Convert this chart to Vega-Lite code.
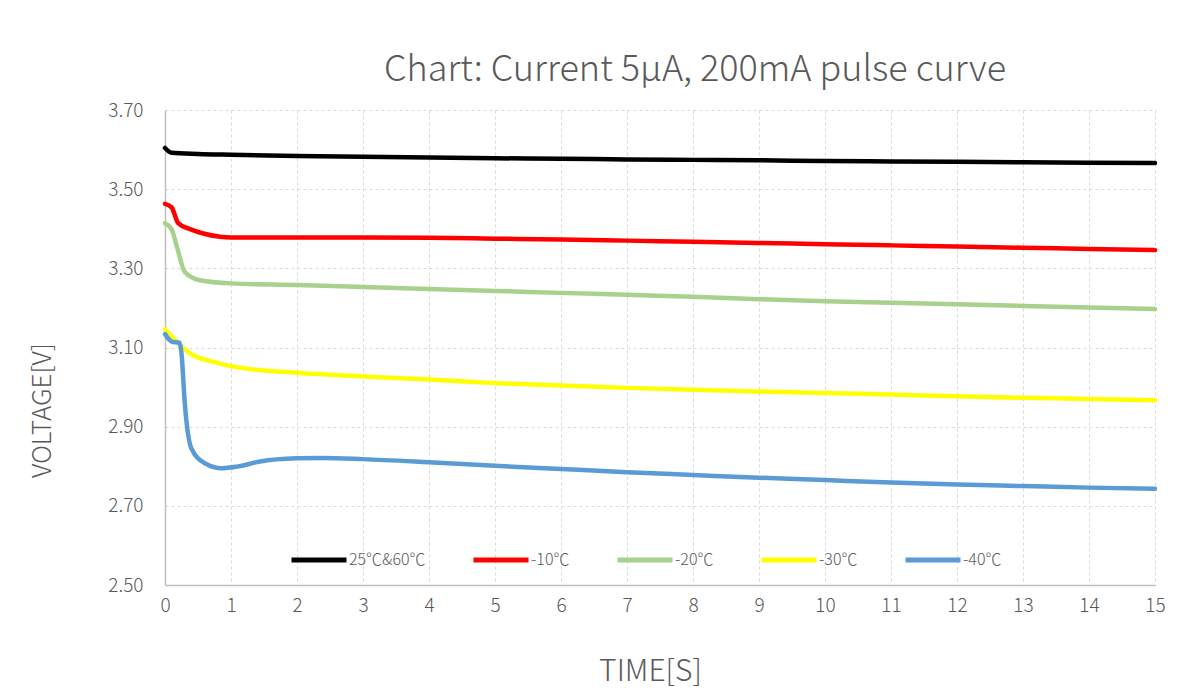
{
  "$schema": "https://vega.github.io/schema/vega-lite/v6.json",
  "width": 990,
  "height": 475,
  "autosize": {"type": "none"},
  "padding": {"left": 165, "top": 110, "right": 31, "bottom": 110},
  "background": "white",
  "title": {
    "text": "Chart: Current 5μA, 200mA pulse curve",
    "font": "Noto Sans CJK SC",
    "fontSize": 36,
    "fontWeight": 300,
    "color": "#595959",
    "anchor": "middle",
    "baseline": "alphabetic",
    "dx": 35,
    "dy": 43,
    "offset": 27
  },
  "config": {
    "view": {"stroke": null},
    "font": "Noto Sans CJK SC"
  },
  "data": {
    "values": [
      {"t": 0, "v": 3.604, "s": "25℃&60℃"},
      {"t": 0.1, "v": 3.592, "s": "25℃&60℃"},
      {"t": 0.5, "v": 3.589, "s": "25℃&60℃"},
      {"t": 1, "v": 3.587, "s": "25℃&60℃"},
      {"t": 2, "v": 3.584, "s": "25℃&60℃"},
      {"t": 3, "v": 3.582, "s": "25℃&60℃"},
      {"t": 4, "v": 3.580, "s": "25℃&60℃"},
      {"t": 5, "v": 3.578, "s": "25℃&60℃"},
      {"t": 6, "v": 3.577, "s": "25℃&60℃"},
      {"t": 7, "v": 3.575, "s": "25℃&60℃"},
      {"t": 8, "v": 3.574, "s": "25℃&60℃"},
      {"t": 9, "v": 3.573, "s": "25℃&60℃"},
      {"t": 10, "v": 3.571, "s": "25℃&60℃"},
      {"t": 11, "v": 3.570, "s": "25℃&60℃"},
      {"t": 12, "v": 3.569, "s": "25℃&60℃"},
      {"t": 13, "v": 3.568, "s": "25℃&60℃"},
      {"t": 14, "v": 3.567, "s": "25℃&60℃"},
      {"t": 15, "v": 3.566, "s": "25℃&60℃"},

      {"t": 0, "v": 3.463, "s": "-10℃"},
      {"t": 0.1, "v": 3.454, "s": "-10℃"},
      {"t": 0.2, "v": 3.414, "s": "-10℃"},
      {"t": 0.38, "v": 3.399, "s": "-10℃"},
      {"t": 0.58, "v": 3.388, "s": "-10℃"},
      {"t": 0.83, "v": 3.380, "s": "-10℃"},
      {"t": 1, "v": 3.378, "s": "-10℃"},
      {"t": 2, "v": 3.378, "s": "-10℃"},
      {"t": 3, "v": 3.378, "s": "-10℃"},
      {"t": 4, "v": 3.377, "s": "-10℃"},
      {"t": 5, "v": 3.375, "s": "-10℃"},
      {"t": 6, "v": 3.373, "s": "-10℃"},
      {"t": 7, "v": 3.370, "s": "-10℃"},
      {"t": 8, "v": 3.367, "s": "-10℃"},
      {"t": 9, "v": 3.364, "s": "-10℃"},
      {"t": 10, "v": 3.361, "s": "-10℃"},
      {"t": 11, "v": 3.358, "s": "-10℃"},
      {"t": 12, "v": 3.355, "s": "-10℃"},
      {"t": 13, "v": 3.352, "s": "-10℃"},
      {"t": 14, "v": 3.349, "s": "-10℃"},
      {"t": 15, "v": 3.346, "s": "-10℃"},

      {"t": 0, "v": 3.414, "s": "-20℃"},
      {"t": 0.1, "v": 3.399, "s": "-20℃"},
      {"t": 0.18, "v": 3.355, "s": "-20℃"},
      {"t": 0.3, "v": 3.291, "s": "-20℃"},
      {"t": 0.53, "v": 3.270, "s": "-20℃"},
      {"t": 1, "v": 3.262, "s": "-20℃"},
      {"t": 2, "v": 3.258, "s": "-20℃"},
      {"t": 3, "v": 3.253, "s": "-20℃"},
      {"t": 4, "v": 3.248, "s": "-20℃"},
      {"t": 5, "v": 3.243, "s": "-20℃"},
      {"t": 6, "v": 3.238, "s": "-20℃"},
      {"t": 7, "v": 3.233, "s": "-20℃"},
      {"t": 8, "v": 3.228, "s": "-20℃"},
      {"t": 9, "v": 3.222, "s": "-20℃"},
      {"t": 10, "v": 3.217, "s": "-20℃"},
      {"t": 11, "v": 3.213, "s": "-20℃"},
      {"t": 12, "v": 3.209, "s": "-20℃"},
      {"t": 13, "v": 3.205, "s": "-20℃"},
      {"t": 14, "v": 3.201, "s": "-20℃"},
      {"t": 15, "v": 3.197, "s": "-20℃"},

      {"t": 0, "v": 3.146, "s": "-30℃"},
      {"t": 0.15, "v": 3.119, "s": "-30℃"},
      {"t": 0.38, "v": 3.085, "s": "-30℃"},
      {"t": 0.78, "v": 3.062, "s": "-30℃"},
      {"t": 1, "v": 3.053, "s": "-30℃"},
      {"t": 2, "v": 3.036, "s": "-30℃"},
      {"t": 3, "v": 3.027, "s": "-30℃"},
      {"t": 4, "v": 3.019, "s": "-30℃"},
      {"t": 5, "v": 3.010, "s": "-30℃"},
      {"t": 6, "v": 3.004, "s": "-30℃"},
      {"t": 7, "v": 2.998, "s": "-30℃"},
      {"t": 8, "v": 2.993, "s": "-30℃"},
      {"t": 9, "v": 2.989, "s": "-30℃"},
      {"t": 10, "v": 2.985, "s": "-30℃"},
      {"t": 11, "v": 2.981, "s": "-30℃"},
      {"t": 12, "v": 2.977, "s": "-30℃"},
      {"t": 13, "v": 2.973, "s": "-30℃"},
      {"t": 14, "v": 2.970, "s": "-30℃"},
      {"t": 15, "v": 2.967, "s": "-30℃"},

      {"t": 0, "v": 3.134, "s": "-40℃"},
      {"t": 0.1, "v": 3.115, "s": "-40℃"},
      {"t": 0.22, "v": 3.112, "s": "-40℃"},
      {"t": 0.25, "v": 3.085, "s": "-40℃"},
      {"t": 0.3, "v": 2.959, "s": "-40℃"},
      {"t": 0.4, "v": 2.845, "s": "-40℃"},
      {"t": 0.61, "v": 2.807, "s": "-40℃"},
      {"t": 0.86, "v": 2.795, "s": "-40℃"},
      {"t": 1.09, "v": 2.799, "s": "-40℃"},
      {"t": 1.44, "v": 2.812, "s": "-40℃"},
      {"t": 2, "v": 2.820, "s": "-40℃"},
      {"t": 2.4, "v": 2.821, "s": "-40℃"},
      {"t": 3, "v": 2.818, "s": "-40℃"},
      {"t": 4, "v": 2.810, "s": "-40℃"},
      {"t": 5, "v": 2.801, "s": "-40℃"},
      {"t": 6, "v": 2.793, "s": "-40℃"},
      {"t": 7, "v": 2.785, "s": "-40℃"},
      {"t": 8, "v": 2.778, "s": "-40℃"},
      {"t": 9, "v": 2.771, "s": "-40℃"},
      {"t": 10, "v": 2.765, "s": "-40℃"},
      {"t": 11, "v": 2.759, "s": "-40℃"},
      {"t": 12, "v": 2.754, "s": "-40℃"},
      {"t": 13, "v": 2.750, "s": "-40℃"},
      {"t": 14, "v": 2.746, "s": "-40℃"},
      {"t": 15, "v": 2.743, "s": "-40℃"}
    ]
  },
  "mark": {"type": "line", "strokeWidth": 4.5, "interpolate": "monotone", "strokeCap": "round", "strokeJoin": "round"},
  "encoding": {
    "x": {
      "field": "t",
      "type": "quantitative",
      "scale": {"domain": [0, 15], "nice": false},
      "axis": {
        "title": "TIME[S]",
        "values": [0,1,2,3,4,5,6,7,8,9,10,11,12,13,14,15],
        "format": "d",
        "grid": true,
        "gridDash": [3, 3],
        "gridColor": "#d9d9d9",
        "gridWidth": 1,
        "ticks": false,
        "tickSize": 0,
        "domainColor": "#bfbfbf",
        "domainWidth": 1.5,
        "labelFont": "Noto Sans CJK SC",
        "labelFontSize": 19,
        "labelFontWeight": 300,
        "labelColor": "#595959",
        "labelPadding": 11,
        "labelFlush": false,
        "titleFont": "Noto Sans CJK SC",
        "titleFontSize": 30,
        "titleFontWeight": 300,
        "titleColor": "#595959",
        "titleX": 485,
        "titleY": 86,
        "titleAlign": "center",
        "titleBaseline": "middle"
      }
    },
    "y": {
      "field": "v",
      "type": "quantitative",
      "scale": {"domain": [2.5, 3.7], "nice": false, "zero": false},
      "axis": {
        "title": "VOLTAGE[V]",
        "values": [2.5, 2.7, 2.9, 3.1, 3.3, 3.5, 3.7],
        "format": ".2f",
        "grid": true,
        "gridDash": [3, 3],
        "gridColor": "#d9d9d9",
        "gridWidth": 1,
        "ticks": false,
        "tickSize": 0,
        "domainColor": "#bfbfbf",
        "domainWidth": 1.5,
        "labelFont": "Noto Sans CJK SC",
        "labelFontSize": 19,
        "labelFontWeight": 300,
        "labelColor": "#595959",
        "labelPadding": 22,
        "labelFlush": false,
        "titleFont": "Noto Sans CJK SC",
        "titleFontSize": 26,
        "titleFontWeight": 300,
        "titleColor": "#595959",
        "titleX": -123,
        "titleY": 300,
        "titleAngle": -90,
        "titleAlign": "center",
        "titleBaseline": "middle"
      }
    },
    "color": {
      "field": "s",
      "type": "nominal",
      "sort": ["25℃&60℃", "-10℃", "-20℃", "-30℃", "-40℃"],
      "scale": {
        "domain": ["25℃&60℃", "-10℃", "-20℃", "-30℃", "-40℃"],
        "range": ["#000000", "#ff0000", "#a9d18e", "#ffff00", "#5b9bd5"]
      },
      "legend": {
        "title": null,
        "orient": "none",
        "direction": "horizontal",
        "legendX": 124,
        "legendY": 420,
        "symbolType": "stroke",
        "symbolSize": 3025,
        "symbolStrokeWidth": 5,
        "labelFont": "Noto Sans CJK SC",
        "labelFontSize": 16,
        "labelFontWeight": 300,
        "labelColor": "#595959",
        "labelOffset": 0,
        "columnPadding": 37
      }
    }
  }
}
